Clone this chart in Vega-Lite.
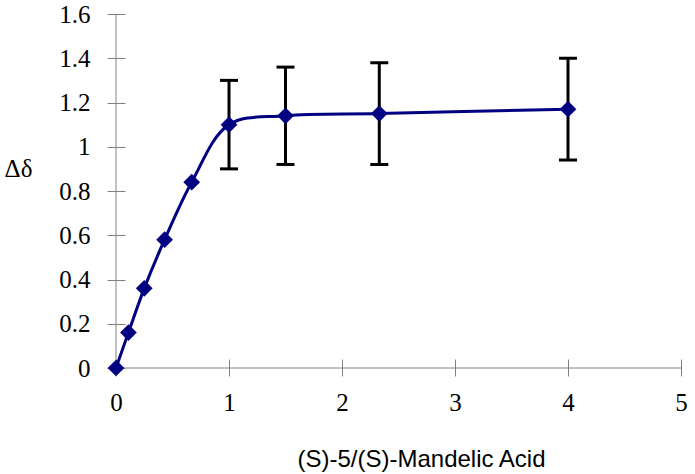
{
  "$schema": "https://vega.github.io/schema/vega-lite/v6.json",
  "width": 565,
  "height": 354,
  "autosize": {"type": "none"},
  "padding": {"left": 116, "top": 14, "right": 14, "bottom": 106},
  "background": "white",
  "config": {
    "view": {"stroke": null},
    "axis": {
      "grid": false,
      "domain": false
    },
    "axisX": {
      "grid": false,
      "domain": false,
      "tickColor": "#808080",
      "tickWidth": 1,
      "labelFont": "Liberation Serif",
      "labelFontSize": 25,
      "labelFontWeight": "normal",
      "labelColor": "black",
      "labelFlush": false,
      "labelOverlap": false,
      "labelBound": false,
      "offset": -9,
      "tickSize": 17,
      "labelPadding": 14,
      "titleFont": "Liberation Sans",
      "titleFontSize": 24,
      "titleFontWeight": "normal",
      "titleColor": "black",
      "titleX": 305,
      "titleY": 107,
      "titleAlign": "center",
      "titleBaseline": "alphabetic"
    },
    "axisY": {
      "grid": false,
      "domain": false,
      "tickColor": "#808080",
      "tickWidth": 1,
      "labelFont": "Liberation Serif",
      "labelFontSize": 25,
      "labelFontWeight": "normal",
      "labelColor": "black",
      "labelFlush": false,
      "labelOverlap": false,
      "labelBound": false,
      "offset": -9,
      "tickSize": 18,
      "labelPadding": 17,
      "titleFont": "Liberation Serif",
      "titleFontSize": 25,
      "titleFontWeight": "normal",
      "titleColor": "black",
      "titleAngle": 0,
      "titleX": -107,
      "titleY": 154,
      "titleAlign": "center",
      "titleBaseline": "middle"
    }
  },
  "data": {
    "values": [
      {"x": 0, "y": 0},
      {"x": 0.11, "y": 0.16},
      {"x": 0.25, "y": 0.36},
      {"x": 0.43, "y": 0.58},
      {"x": 0.67, "y": 0.84},
      {"x": 1, "y": 1.1, "lo": 0.9, "hi": 1.3},
      {"x": 1.5, "y": 1.14, "lo": 0.92, "hi": 1.36},
      {"x": 2.33, "y": 1.15, "lo": 0.92, "hi": 1.38},
      {"x": 4, "y": 1.17, "lo": 0.94, "hi": 1.4}
    ]
  },
  "layer": [
    {
      "mark": {"type": "line", "color": "#000080", "strokeWidth": 3, "interpolate": "catmull-rom"},
      "encoding": {
        "x": {
          "field": "x",
          "type": "quantitative",
          "scale": {"domain": [0, 5], "nice": false, "zero": false},
          "axis": {
            "values": [0, 1, 2, 3, 4, 5],
            "format": "~g",
            "title": "(S)-5/(S)-Mandelic Acid"
          }
        },
        "y": {
          "field": "y",
          "type": "quantitative",
          "scale": {"domain": [0, 1.6], "nice": false, "zero": false},
          "axis": {
            "values": [0, 0.2, 0.4, 0.6, 0.8, 1, 1.2, 1.4, 1.6],
            "format": "~g",
            "title": "Δδ"
          }
        }
      }
    },
    {
      "data": {"values": [{"edge": "left"}]},
      "mark": {"type": "rule", "color": "#808080", "strokeWidth": 1},
      "encoding": {
        "x": {"datum": 0, "type": "quantitative"},
        "y": {"datum": 0, "type": "quantitative"},
        "y2": {"datum": 1.6}
      }
    },
    {
      "data": {"values": [{"edge": "bottom"}]},
      "mark": {"type": "rule", "color": "#808080", "strokeWidth": 1},
      "encoding": {
        "y": {"datum": 0, "type": "quantitative"},
        "x": {"datum": 0, "type": "quantitative"},
        "x2": {"datum": 5}
      }
    },
    {
      "transform": [{"filter": "isValid(datum.lo)"}],
      "mark": {"type": "rule", "color": "black", "strokeWidth": 3},
      "encoding": {
        "x": {"field": "x", "type": "quantitative"},
        "y": {"field": "lo", "type": "quantitative"},
        "y2": {"field": "hi"}
      }
    },
    {
      "transform": [{"filter": "isValid(datum.lo)"}],
      "mark": {"type": "tick", "orient": "horizontal", "color": "black", "thickness": 3, "size": 18, "opacity": 1},
      "encoding": {
        "x": {"field": "x", "type": "quantitative"},
        "y": {"field": "lo", "type": "quantitative"}
      }
    },
    {
      "transform": [{"filter": "isValid(datum.hi)"}],
      "mark": {"type": "tick", "orient": "horizontal", "color": "black", "thickness": 3, "size": 18, "opacity": 1},
      "encoding": {
        "x": {"field": "x", "type": "quantitative"},
        "y": {"field": "hi", "type": "quantitative"}
      }
    },
    {
      "mark": {"type": "point", "shape": "diamond", "filled": true, "color": "#000080", "size": 280, "opacity": 1},
      "encoding": {
        "x": {"field": "x", "type": "quantitative"},
        "y": {"field": "y", "type": "quantitative"}
      }
    }
  ]
}
